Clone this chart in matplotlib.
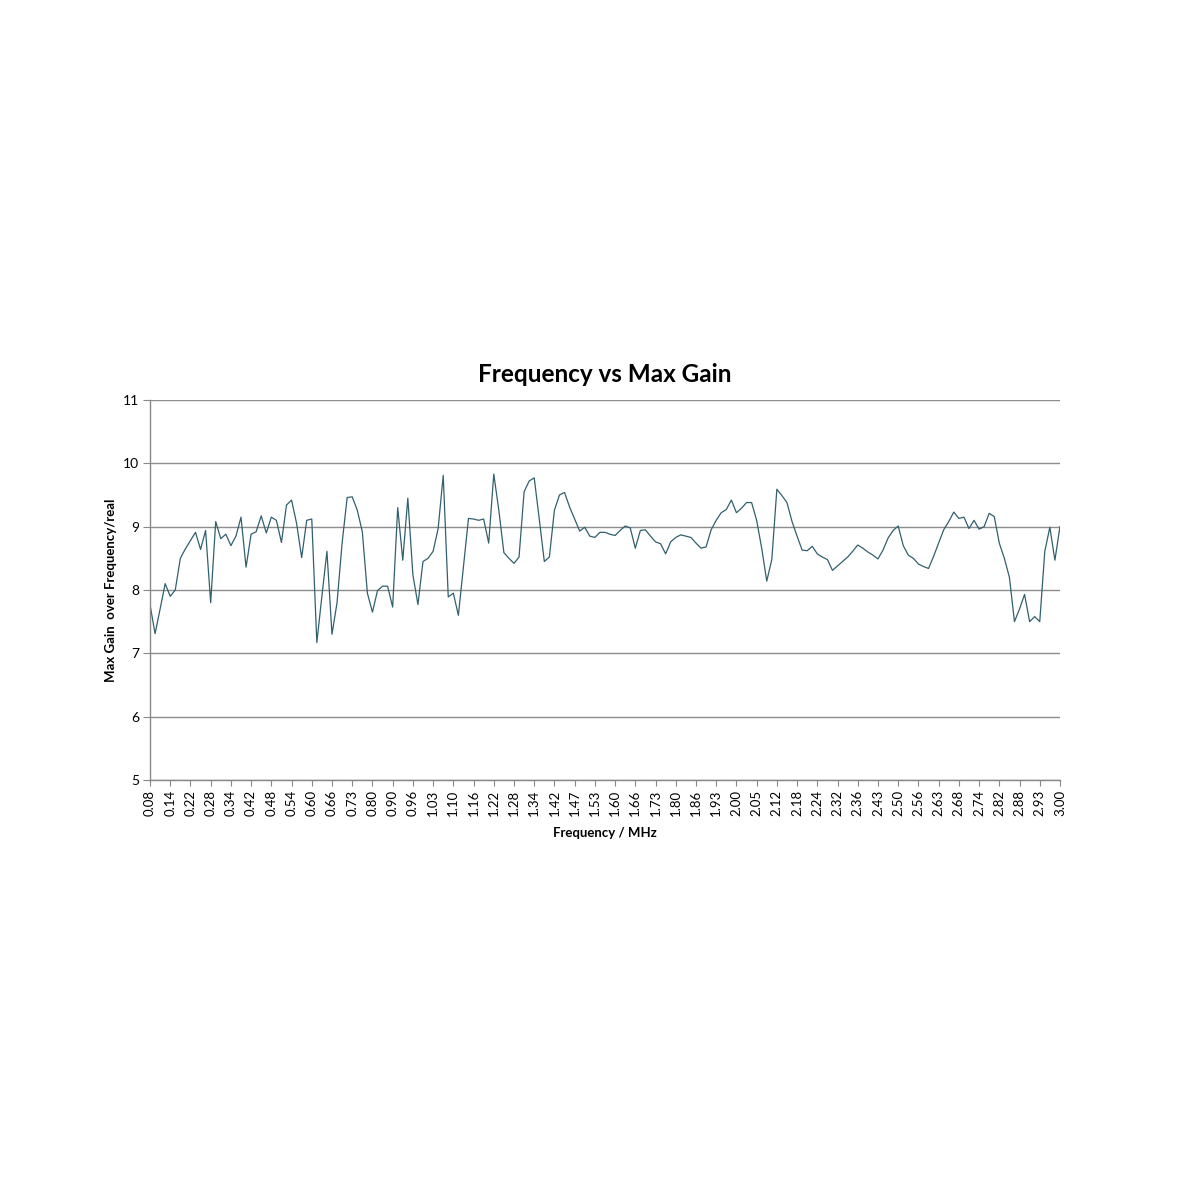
import matplotlib
matplotlib.use('Agg')
import matplotlib.pyplot as plt

# Category labels shown on the x axis (every 4th sample)
freq_labels = ['0.08', '0.14', '0.22', '0.28', '0.34', '0.42', '0.48', '0.54',
               '0.60', '0.66', '0.73', '0.80', '0.90', '0.96', '1.03', '1.10',
               '1.16', '1.22', '1.28', '1.34', '1.42', '1.47', '1.53', '1.60',
               '1.66', '1.73', '1.80', '1.86', '1.93', '2.00', '2.05', '2.12',
               '2.18', '2.24', '2.32', '2.36', '2.43', '2.50', '2.56', '2.63',
               '2.68', '2.74', '2.82', '2.88', '2.93', '3.00']
label_step = 4

# Max gain per frequency sample
max_gain = [7.77, 7.31, 7.70, 8.10, 7.90, 8.00, 8.50, 8.65, 8.78, 8.91,
            8.64, 8.94, 7.80, 9.08, 8.81, 8.88, 8.70, 8.85, 9.15, 8.36,
            8.88, 8.92, 9.17, 8.90, 9.15, 9.10, 8.75, 9.34, 9.42, 9.05,
            8.51, 9.10, 9.12, 7.17, 7.90, 8.61, 7.30, 7.80, 8.74, 9.46,
            9.47, 9.26, 8.92, 7.95, 7.65, 7.99, 8.06, 8.06, 7.73, 9.30,
            8.47, 9.45, 8.24, 7.77, 8.45, 8.50, 8.61, 8.97, 9.81, 7.89,
            7.95, 7.60, 8.37, 9.13, 9.12, 9.10, 9.12, 8.74, 9.83, 9.26,
            8.59, 8.50, 8.42, 8.52, 9.55, 9.72, 9.77, 9.12, 8.45, 8.52,
            9.26, 9.50, 9.54, 9.31, 9.12, 8.93, 8.99, 8.85, 8.83, 8.91,
            8.91, 8.88, 8.86, 8.94, 9.01, 8.98, 8.66, 8.94, 8.95, 8.85,
            8.76, 8.73, 8.57, 8.76, 8.83, 8.87, 8.85, 8.83, 8.74, 8.66,
            8.68, 8.95, 9.10, 9.22, 9.27, 9.42, 9.22, 9.29, 9.38, 9.38,
            9.10, 8.66, 8.14, 8.48, 9.59, 9.49, 9.38, 9.08, 8.85, 8.63,
            8.62, 8.69, 8.57, 8.52, 8.48, 8.31, 8.38, 8.45, 8.52, 8.61,
            8.71, 8.66, 8.60, 8.55, 8.49, 8.63, 8.82, 8.94, 9.01, 8.70,
            8.55, 8.50, 8.41, 8.37, 8.34, 8.53, 8.74, 8.95, 9.08, 9.23,
            9.13, 9.15, 8.97, 9.10, 8.96, 9.00, 9.21, 9.16, 8.74, 8.50,
            8.20, 7.50, 7.70, 7.93, 7.50, 7.58, 7.50, 8.61, 8.99, 8.47,
            9.00]

y_ticks = [5, 6, 7, 8, 9, 10, 11]

plt.rcParams['font.family'] = ['Lato', 'DejaVu Sans']

fig = plt.figure(figsize=(12, 12), dpi=100)
ax = fig.add_axes([0.125, 0.35, 0.7583, 0.3167])

x = list(range(len(max_gain)))
ax.plot(x, max_gain, color='#31606e', linewidth=0.9)

ax.set_xlim(0, len(max_gain) - 1)
ax.set_ylim(5, 11)
ax.set_yticks(y_ticks)
ax.set_xticks(x[::label_step])
ax.set_xticklabels(freq_labels, rotation=90, fontsize=9.5)
ax.tick_params(axis='y', labelsize=10, length=5, color='#888888', pad=3)
ax.tick_params(axis='x', length=4, color='#888888', pad=3)

ax.grid(axis='y', color='#8c8c8c', linewidth=1.0)
ax.set_axisbelow(True)
for s in ['top', 'right']:
    ax.spines[s].set_visible(False)
for s in ['left', 'bottom']:
    ax.spines[s].set_color('#888888')
    ax.spines[s].set_linewidth(1.0)

ax.set_title('Frequency vs Max Gain', fontsize=17.5, fontweight='bold', pad=13)
ax.set_xlabel('Frequency / MHz', fontsize=9.5, fontweight='bold', labelpad=8)
ax.set_ylabel('Max Gain  over Frequency/real', fontsize=9.5, fontweight='bold',
              labelpad=4)

plt.savefig('out.png', dpi=100)
